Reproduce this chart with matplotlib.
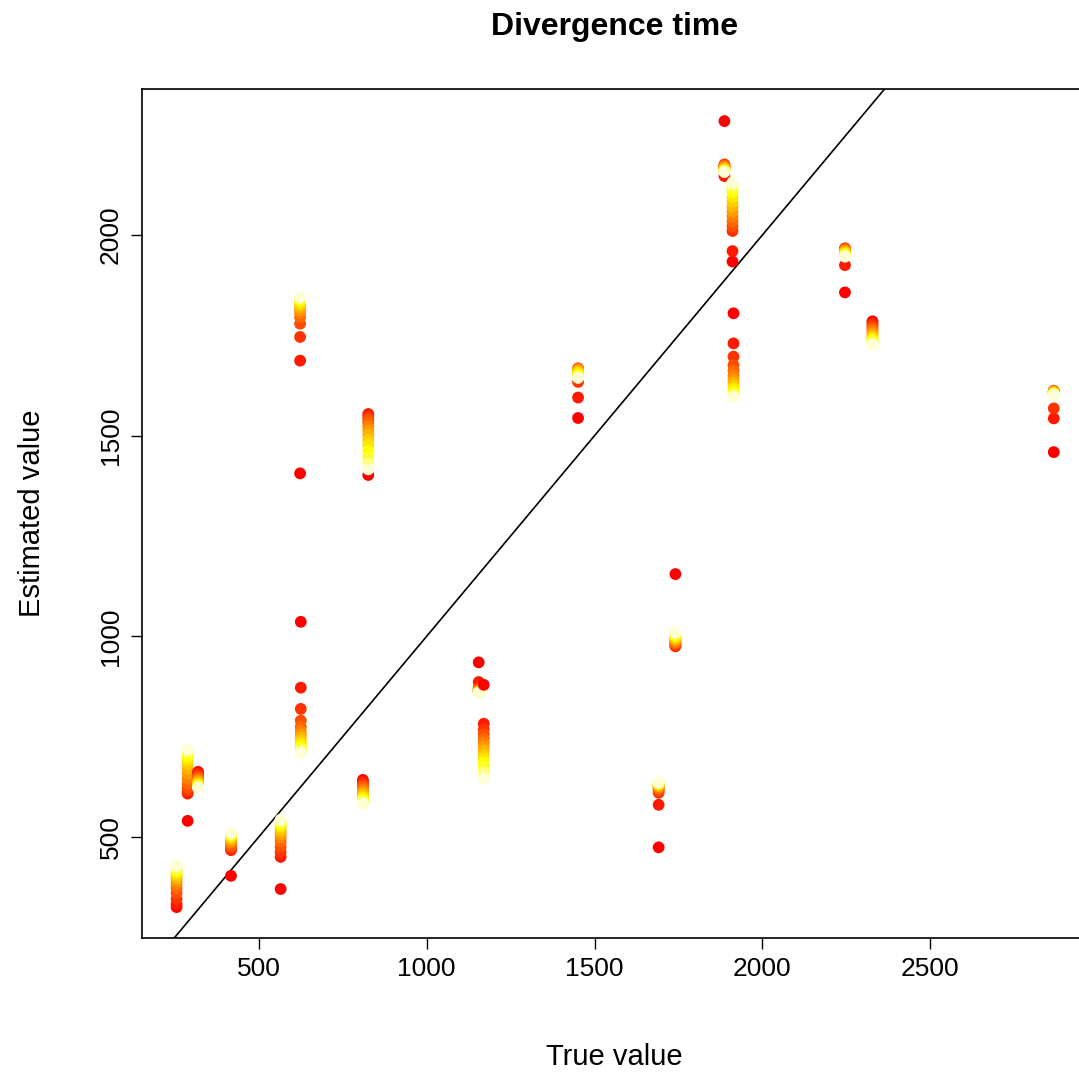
import colorsys
import matplotlib
matplotlib.use("Agg")
import matplotlib.pyplot as plt

plt.rcParams.update({"font.family": ["Liberation Sans", "DejaVu Sans"], "font.size": 18})

# true value of each node, and its successive estimates (first -> last)
true_value = [255, 288, 319, 417, 565, 623, 625, 826, 810, 1451,
              1155, 1170, 1691, 1741, 1887, 1911, 1914, 2246, 2328, 2868]

est_255 = [325, 332, 345, 360, 372, 382, 390, 397, 403, 409, 414, 419, 424, 428]
est_288 = [540, 608, 614, 622, 632, 645, 658, 670, 682, 692, 700, 708, 714, 718]
est_319 = [662, 658, 654, 650, 646, 642, 639, 636, 633, 630, 628, 626, 624, 622]
est_417 = [403, 467, 471, 476, 481, 486, 490, 494, 498, 501, 504, 506, 508, 510]
est_565 = [370, 450, 462, 475, 488, 498, 506, 513, 520, 526, 531, 536, 540, 543]
est_623 = [1406, 1687, 1746, 1779, 1795, 1805, 1813, 1820, 1826, 1831, 1836, 1840, 1843, 1846]
est_625 = [1036, 872, 819, 790, 775, 764, 755, 747, 740, 733, 726, 720, 714, 709]
est_826 = [1402, 1554, 1547, 1540, 1532, 1523, 1513, 1502, 1490, 1477, 1462, 1447, 1431, 1416]
est_810 = [642, 637, 632, 627, 622, 617, 612, 607, 602, 598, 594, 590, 586, 582]
est_1451 = [1544, 1595, 1634, 1668, 1667, 1665, 1663, 1661, 1658, 1655, 1652, 1649, 1646, 1644]
est_1155 = [935, 886, 872, 868, 866, 865, 864, 863, 862, 861, 860, 860, 859, 859]
est_1170 = [879, 782, 768, 756, 745, 735, 725, 715, 705, 695, 685, 674, 660, 646]
est_1691 = [474, 580, 610, 616, 620, 623, 626, 628, 630, 632, 633, 634, 635, 636]
est_1741 = [1155, 975, 978, 981, 984, 987, 990, 993, 996, 999, 1002, 1005, 1008, 1010]
est_1887 = [2284, 2147, 2176, 2174, 2172, 2170, 2168, 2166, 2164, 2162, 2160, 2159, 2158, 2157]
est_1911 = [1934, 1960, 2010, 2022, 2034, 2046, 2058, 2070, 2082, 2094, 2106, 2116, 2124, 2131]
est_1914 = [1805, 1730, 1697, 1676, 1662, 1650, 1640, 1632, 1624, 1617, 1611, 1605, 1600, 1596]
est_2246 = [1857, 1925, 1967, 1966, 1964, 1962, 1960, 1958, 1956, 1954, 1952, 1950, 1948, 1946]
est_2328 = [1785, 1780, 1775, 1770, 1765, 1760, 1755, 1750, 1746, 1742, 1738, 1734, 1730, 1727]
est_2868 = [1459, 1543, 1568, 1612, 1611, 1610, 1609, 1608, 1607, 1606, 1605, 1604, 1603, 1602]

estimates = [est_255, est_288, est_319, est_417, est_565, est_623, est_625, est_826,
             est_810, est_1451, est_1155, est_1170, est_1691, est_1741, est_1887,
             est_1911, est_1914, est_2246, est_2328, est_2868]


def heat_colors(n):
    # same ramp as R's heat.colors(n)
    j = n // 4
    i = n - j
    cols = [colorsys.hsv_to_rgb((k / (i - 1)) * (1 / 6) if i > 1 else 0, 1, 1) for k in range(i)]
    for k in range(j):
        hi, lo = 1 - 1 / (2 * j), 1 / (2 * j)
        s = hi + (lo - hi) * k / (j - 1) if j > 1 else hi
        cols.append(colorsys.hsv_to_rgb(1 / 6, s, 1))
    return cols


fig = plt.figure(figsize=(10.79, 10.74), dpi=100)
ax = fig.add_axes([142 / 1079, 136 / 1074, 945 / 1079, 849 / 1074])

for tv, ys in zip(true_value, estimates):
    ax.scatter([tv] * len(ys), ys, c=heat_colors(len(ys)), s=72, linewidths=0, zorder=3)

ax.axline((0, 0), slope=1, color="black", lw=1.2, zorder=2)

ax.set_xlim(152, 2967)
ax.set_ylim(248, 2364)
ax.set_xticks([500, 1000, 1500, 2000, 2500])
ax.set_yticks([500, 1000, 1500, 2000])
for lab in ax.get_yticklabels():
    lab.set_rotation(90)
    lab.set_va("center")
ax.tick_params(direction="out", length=8, width=1, pad=6, labelsize=19)
for sp in ax.spines.values():
    sp.set_linewidth(1.2)

ax.set_xlabel("True value", fontsize=21, labelpad=44)
ax.set_ylabel("Estimated value", fontsize=21, labelpad=38)
ax.set_title("Divergence time", fontsize=23, fontweight="bold", pad=39)

fig.savefig("out.png", dpi=100)
